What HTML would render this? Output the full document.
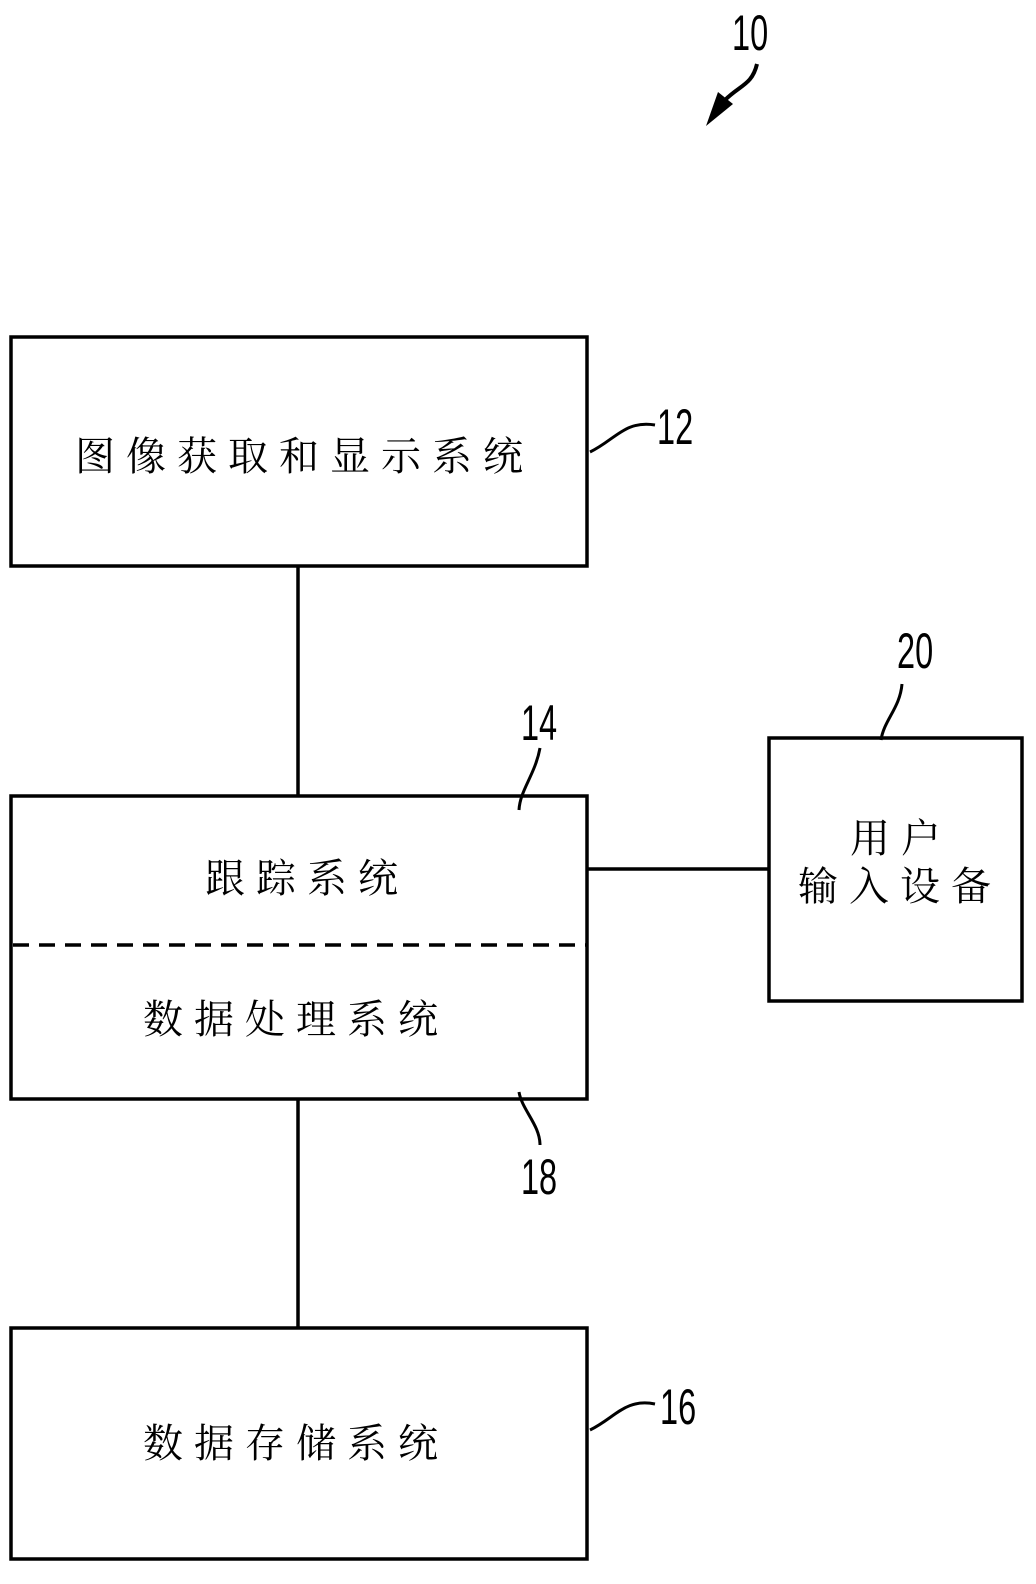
<!DOCTYPE html>
<html><head><meta charset="utf-8"><style>
html,body{margin:0;padding:0;background:#fff;}
body{width:1036px;height:1584px;position:relative;overflow:hidden;}
svg{position:absolute;left:0;top:0;}
.t{font-family:"Noto Serif CJK SC","Liberation Serif",serif;font-size:40px;fill:#000;}
.n{font-family:"Liberation Sans",sans-serif;font-size:50px;fill:#000;}
</style></head><body>
<svg width="1036" height="1584" viewBox="0 0 1036 1584">
<g fill="none" stroke="#000" stroke-width="3.5">
<rect x="11" y="337" width="576" height="229"/>
<rect x="11" y="796" width="576" height="303"/>
<rect x="769" y="738" width="253" height="263"/>
<rect x="11" y="1328" width="576" height="231"/>
<line x1="298" y1="566" x2="298" y2="796"/>
<line x1="298" y1="1099" x2="298" y2="1328"/>
<line x1="587" y1="869" x2="769" y2="869"/>
<line x1="13" y1="945" x2="587" y2="945" stroke-dasharray="16,10"/>
<path d="M590 452 C615 440,625 420,655 425" stroke-width="3"/>
<path d="M590 1430 C615 1418,625 1398,655 1404" stroke-width="3"/>
<path d="M519 810 C520 790,535 775,540 748" stroke-width="3"/>
<path d="M519 1092 C522 1110,540 1125,540 1145" stroke-width="3"/>
<path d="M881 740 C884 720,900 708,902 684" stroke-width="3"/>
<path d="M757 64 C752 85,740 85,725 100" stroke-width="4"/>
</g>
<polygon points="706,126 718,92 733,104" fill="#000"/>
<g class="n">
<text x="732" y="50" transform="translate(732 0) scale(0.65 1) translate(-732 0)">10</text>
<text x="657" y="444" transform="translate(657 0) scale(0.65 1) translate(-657 0)">12</text>
<text x="521" y="740" transform="translate(521 0) scale(0.65 1) translate(-521 0)">14</text>
<text x="521" y="1194" transform="translate(521 0) scale(0.65 1) translate(-521 0)">18</text>
<text x="897" y="668" transform="translate(897 0) scale(0.65 1) translate(-897 0)">20</text>
<text x="660" y="1424" transform="translate(660 0) scale(0.65 1) translate(-660 0)">16</text>
</g>
<g class="t">
<text x="75" y="470" letter-spacing="11">图像获取和显示系统</text>
<text x="205" y="892" letter-spacing="11">跟踪系统</text>
<text x="143" y="1033" letter-spacing="11">数据处理系统</text>
<text x="850" y="852" letter-spacing="11">用户</text>
<text x="798" y="900" letter-spacing="11">输入设备</text>
<text x="143" y="1457" letter-spacing="11">数据存储系统</text>
</g>
</svg>
</body></html>
